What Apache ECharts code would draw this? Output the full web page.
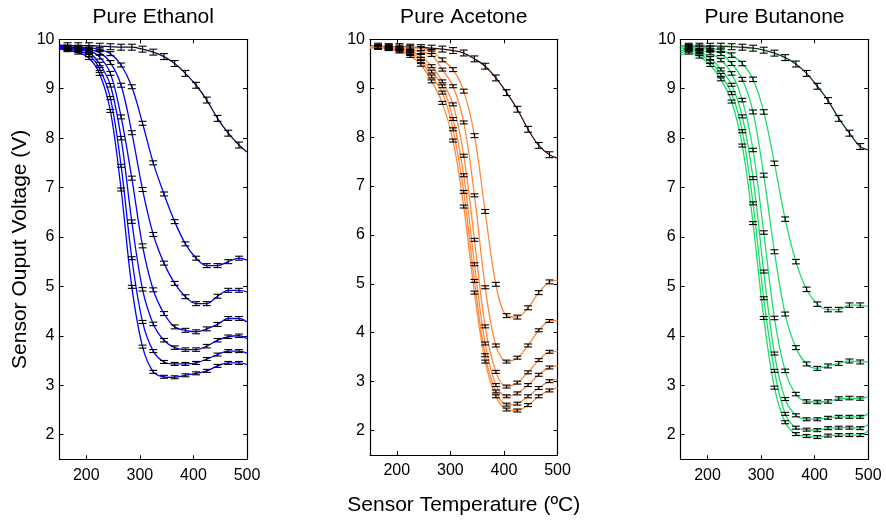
<!DOCTYPE html>
<html>
<head>
<meta charset="utf-8">
<script src="https://cdn.jsdelivr.net/npm/echarts@6/dist/echarts.min.js"></script>
<style>html,body{margin:0;padding:0;background:#fff}#c{width:886px;height:521px}</style>
</head>
<body>
<div id="c"></div>
<script>
// ---- data ----
var panelTitles = ['Pure Ethanol', 'Pure Acetone', 'Pure Butanone'];
var xTicks = [200, 300, 400, 500];
var yTicks = [2, 3, 4, 5, 6, 7, 8, 9, 10];
var temps = [165,185,205,225,245,265,285,305,325,345,365,385,405,425,445,465,485];
var lineStartT = 150, lineEndT = 500;

// Ethanol
var ethAir = [9.87,9.87,9.87,9.86,9.85,9.84,9.84,9.80,9.74,9.65,9.51,9.31,9.07,8.77,8.40,8.10,7.86];
var eth1 = [9.84,9.84,9.83,9.79,9.71,9.48,9.04,8.30,7.50,6.87,6.31,5.86,5.57,5.42,5.42,5.50,5.57];
var eth2 = [9.84,9.83,9.80,9.73,9.53,9.07,8.11,6.96,6.05,5.47,5.06,4.79,4.65,4.65,4.80,4.92,4.92];
var eth3 = [9.83,9.81,9.77,9.64,9.31,8.43,7.19,5.82,4.93,4.45,4.18,4.11,4.08,4.14,4.23,4.35,4.35];
var eth4 = [9.82,9.79,9.73,9.50,9.07,8.00,6.31,4.94,4.24,3.91,3.76,3.72,3.72,3.79,3.91,3.98,4.00];
var eth5 = [9.80,9.76,9.68,9.40,8.81,7.44,5.57,4.28,3.69,3.47,3.43,3.43,3.45,3.53,3.62,3.69,3.69];
var eth6 = [9.78,9.73,9.62,9.30,8.55,6.96,4.99,3.78,3.27,3.17,3.16,3.20,3.24,3.29,3.39,3.45,3.45];
var ethStart = [9.88,9.85,9.84,9.84,9.83,9.82,9.80];
var ethEnd = [7.72,5.53,4.89,4.28,3.94,3.65,3.42];
var ethErr = [0.06,0.04,0.04,0.04,0.035,0.03,0.03];

// Acetone
var aceAir = [9.86,9.85,9.85,9.84,9.83,9.82,9.80,9.77,9.72,9.60,9.45,9.21,8.91,8.57,8.16,7.83,7.64];
var ace1 = [9.85,9.85,9.84,9.83,9.81,9.75,9.58,9.38,8.94,8.03,6.48,4.99,4.35,4.32,4.51,4.82,5.04];
var ace2 = [9.85,9.84,9.82,9.79,9.74,9.68,9.38,9.04,8.30,6.81,4.93,3.74,3.41,3.49,3.74,4.05,4.24];
var ace3 = [9.84,9.83,9.81,9.76,9.66,9.45,9.14,8.67,7.62,5.90,4.13,3.20,2.90,2.98,3.19,3.44,3.61];
var ace4 = [9.84,9.82,9.79,9.73,9.60,9.34,9.04,8.37,7.22,5.40,3.78,2.93,2.70,2.76,2.93,3.14,3.29];
var ace5 = [9.83,9.81,9.77,9.70,9.55,9.24,8.91,8.16,6.88,5.06,3.54,2.80,2.53,2.55,2.70,2.87,3.01];
var ace6 = [9.83,9.80,9.75,9.66,9.48,9.14,8.70,7.93,6.58,4.82,3.41,2.70,2.43,2.41,2.52,2.70,2.82];
var aceStart = [9.86,9.85,9.85,9.84,9.84,9.83,9.82];
var aceEnd = [7.57,5.07,4.25,3.62,3.32,3.05,2.88];
var aceErr = [0.06,0.04,0.03,0.03,0.03,0.03,0.03];

// Butanone
var butAir = [9.86,9.86,9.86,9.86,9.85,9.84,9.82,9.78,9.72,9.63,9.50,9.31,9.05,8.76,8.40,8.10,7.83];
var but1 = [9.85,9.84,9.82,9.78,9.68,9.51,9.19,8.53,7.49,6.36,5.50,4.94,4.64,4.53,4.53,4.62,4.62];
var but2 = [9.84,9.82,9.78,9.71,9.51,9.19,8.53,7.25,5.70,4.44,3.76,3.43,3.34,3.39,3.44,3.49,3.47];
var but3 = [9.82,9.78,9.72,9.58,9.31,8.77,7.76,6.09,4.36,3.29,2.82,2.67,2.66,2.67,2.73,2.74,2.73];
var but4 = [9.80,9.74,9.62,9.39,9.08,8.44,7.19,5.30,3.64,2.72,2.39,2.31,2.31,2.34,2.36,2.36,2.36];
var but5 = [9.77,9.70,9.55,9.28,8.91,8.14,6.68,4.76,3.29,2.42,2.14,2.10,2.09,2.13,2.14,2.14,2.13];
var but6 = [9.73,9.65,9.48,9.19,8.74,7.85,6.28,4.36,2.95,2.25,2.01,1.97,1.95,1.98,1.99,1.99,1.99];
var butStart = [9.86,9.86,9.84,9.80,9.76,9.72,9.68];
var butEnd = [7.76,4.59,3.47,2.77,2.42,2.21,2.08];
var butErr = [0.06,0.045,0.04,0.035,0.03,0.03,0.03];

// ---- styling / layout ----
var FONT = '"Liberation Sans", Arial, sans-serif';
var panels = [
  {curves:[ethAir,eth1,eth2,eth3,eth4,eth5,eth6], start:ethStart, end:ethEnd, err:ethErr, air:'#0a0a40', color:'#0000ff'},
  {curves:[aceAir,ace1,ace2,ace3,ace4,ace5,ace6], start:aceStart, end:aceEnd, err:aceErr, air:'#400a00', color:'#ff8a3d'},
  {curves:[butAir,but1,but2,but3,but4,but5,but6], start:butStart, end:butEnd, err:butErr, air:'#0a3a14', color:'#1edc6a'}
];
var gridLefts = [59.5, 370, 680.7];
var gridW = 187.5, gridTop = 39.3, gridH = 420;

var grids = [], xAxes = [], yAxes = [], series = [], graphics = [];
function errRender(params, api) {
  var x = api.value(0), y = api.value(1), e = api.value(2);
  var hi = api.coord([x, y + e]), lo = api.coord([x, y - e]);
  var w = 4, st = {stroke:'#000', lineWidth:1.1};
  return {type:'group', children:[
    {type:'line', shape:{x1:hi[0], y1:hi[1], x2:lo[0], y2:lo[1]}, style:st},
    {type:'line', shape:{x1:hi[0]-w, y1:hi[1], x2:hi[0]+w, y2:hi[1]}, style:st},
    {type:'line', shape:{x1:lo[0]-w, y1:lo[1], x2:lo[0]+w, y2:lo[1]}, style:st}
  ]};
}
panels.forEach(function(p, i) {
  grids.push({left:gridLefts[i], top:gridTop, width:gridW, height:gridH, containLabel:false});
  var axLine = {show:true, lineStyle:{color:'#000', width:1.2}};
  var tick = {show:true, inside:true, length:4, lineStyle:{color:'#000'}, customValues:xTicks};
  xAxes.push({type:'value', gridIndex:i, min:150, max:500, position:'bottom',
    axisLine:axLine, axisTick:tick, splitLine:{show:false},
    axisLabel:{show:true, customValues:xTicks, fontSize:16, color:'#000', fontFamily:FONT, margin:8},
    name: i === 1 ? 'Sensor Temperature (ºC)' : '', nameLocation:'middle', nameGap:40,
    nameTextStyle:{fontSize:21, color:'#000', fontFamily:FONT}});
  xAxes.push({type:'value', gridIndex:i, min:150, max:500, position:'top',
    axisLine:axLine, axisTick:tick, splitLine:{show:false}, axisLabel:{show:false}});
  var ytick = {show:true, inside:true, length:4, lineStyle:{color:'#000'}, customValues:yTicks};
  yAxes.push({type:'value', gridIndex:i, min:1.5, max:10, position:'left',
    axisLine:axLine, axisTick:ytick, splitLine:{show:false},
    axisLabel:{show:true, customValues:yTicks, fontSize:16, color:'#000', fontFamily:FONT, margin:5},
    name: i === 0 ? 'Sensor Ouput Voltage (V)' : '', nameLocation:'middle', nameGap:29,
    nameTextStyle:{fontSize:21, color:'#000', fontFamily:FONT}});
  yAxes.push({type:'value', gridIndex:i, min:1.5, max:10, position:'right',
    axisLine:axLine, axisTick:ytick, splitLine:{show:false}, axisLabel:{show:false}});

  var errData = [];
  p.curves.forEach(function(vals, k) {
    var d = [[lineStartT, p.start[k]]];
    temps.forEach(function(t, j) { d.push([t, vals[j]]); errData.push([t, vals[j], p.err[k]]); });
    d.push([lineEndT, p.end[k]]);
    series.push({type:'line', xAxisIndex:2*i, yAxisIndex:2*i, data:d, smooth:0.35,
      showSymbol:false, silent:true, z:2,
      lineStyle:{color: k === 0 ? p.air : p.color, width:1.3}});
  });
  series.push({type:'custom', xAxisIndex:2*i, yAxisIndex:2*i, data:errData, renderItem:errRender,
    encode:{x:0, y:1}, z:3, silent:true});

  graphics.push({type:'text', x:gridLefts[i] + gridW/2, y:17,
    style:{text:panelTitles[i], font:'21px ' + FONT, fill:'#000', textAlign:'center', textVerticalAlign:'middle'}});
});

var chart = echarts.init(document.getElementById('c'), null, {renderer:'canvas'});
chart.setOption({
  animation:false,
  backgroundColor:'#fff',
  grid:grids, xAxis:xAxes, yAxis:yAxes, series:series, graphic:graphics
});
</script>
</body>
</html>
